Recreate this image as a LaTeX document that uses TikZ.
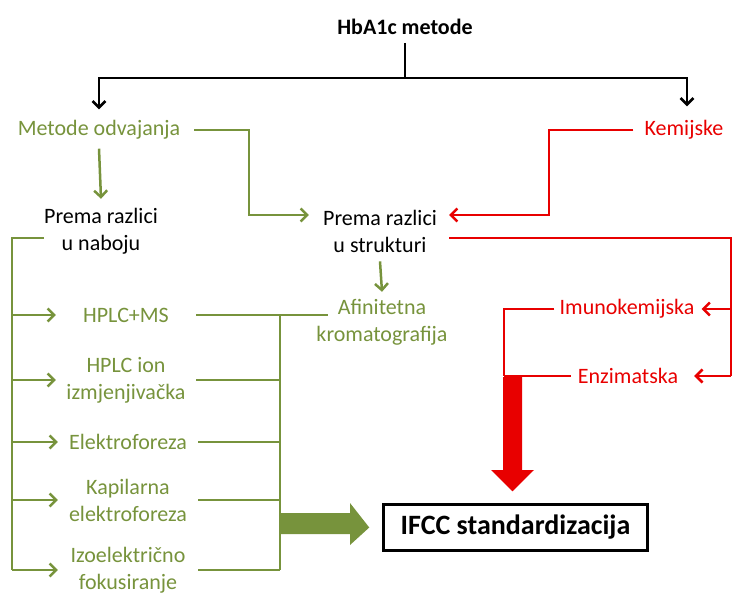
\documentclass[tikz,border=0pt]{standalone}
\usepackage{fontspec}
\setmainfont{Carlito}
\usetikzlibrary{arrows.meta}
\definecolor{olivec}{RGB}{119,147,60}
\definecolor{redc}{RGB}{232,0,0}
\begin{document}
\begin{tikzpicture}[x=1pt,y=-1pt,
  txt/.style={inner sep=0pt, align=center, font=\fontsize{22}{27}\selectfont},
  gtxt/.style={txt, text=olivec},
  rtxt/.style={txt, text=redc},
  item/.style={gtxt, minimum width=140pt},
  gline/.style={draw=olivec, line width=2.5pt},
  rline/.style={draw=redc, line width=2.5pt},
  bline/.style={draw=black, line width=2.5pt},
  tip/.style={-{Straight Barb[length=6.5pt,width=13pt]}}
]
\useasboundingbox (0,0) rectangle (732,594);

% nodes
\node[txt, font=\fontsize{22}{27}\selectfont\bfseries] (top) at (405,27) {HbA1c metode};
\node[gtxt] (mo) at (99,130) {Metode odvajanja};
\node[rtxt] (kem) at (684,130) {Kemijske};
\node[txt] (pn) at (101,231) {Prema razlici\\u naboju};
\node[txt] (ps) at (380,231) {Prema razlici\\u strukturi};
\node[gtxt] (af) at (382,322) {Afinitetna\\kromatografija};
\node[rtxt] (imu) at (627,309) {Imunokemijska};
\node[rtxt] (enz) at (628,376) {Enzimatska};
\node[item] (h1) at (126,315) {HPLC+MS};
\node[item] (h2) at (126,380) {HPLC ion\\izmjenjivačka};
\node[item] (el) at (128,442) {Elektroforeza};
\node[item] (ka) at (128,500) {Kapilarna\\elektroforeza};
\node[item] (iz) at (128,570) {Izoelektrično\\fokusiranje};
\node[draw, line width=2.5pt, inner sep=0pt, minimum width=264pt, minimum height=46pt,
      font=\fontsize{28}{32}\selectfont\bfseries] (ifcc) at (515.5,527.5) {IFCC standardizacija};

% black tree
\coordinate (bj) at (405,78);
\draw[bline] ([yshift=-8pt]top.south) -- (bj);
\draw[bline, tip] (bj) -| ([yshift=11pt]mo.north);
\draw[bline, tip] (bj) -| ([xshift=3pt,yshift=14pt]kem.north);

% green upper
\draw[gline, tip] ([yshift=-9pt]mo.south) -- ([yshift=9pt]pn.north);
\coordinate (pst) at ([xshift=-14pt,yshift=16pt]ps.west);
\draw[gline, tip] ([xshift=14pt]mo.east) -| ([xshift=-60pt]pst) -- (pst);
\draw[gline, tip] ([yshift=-9pt]ps.south) -- ([yshift=7pt]af.north);

% green left bus
\coordinate (lb) at (12,0);
\coordinate (pnl) at ([yshift=-7pt]pn.west);
\draw[gline] (pnl) -- (lb |- pnl) -- (lb |- iz.west);
\foreach \n in {h1,h2,el,ka,iz}
  \draw[gline, tip] (lb |- \n.west) -- (\n.west);

% green right bus
\coordinate (rb) at (280,0);
\draw[gline] (h1.east) -- ([xshift=12pt]af.west |- h1.east);
\draw[gline] (rb |- h1.east) -- (rb |- iz.east);
\foreach \n in {h2,el,ka,iz}
  \draw[gline] (\n.east) -- (rb |- \n.east);

% big green arrow
\fill[olivec] (281,513) -- (350,513) -- (350,503) -- ([xshift=-13pt]ifcc.west) -- (350,545) -- (350,534) -- (281,534) -- cycle;

% red
\coordinate (kst) at ([xshift=12pt,yshift=16pt]ps.east);
\draw[rline, tip] ([xshift=-11pt]kem.west) -| ([xshift=100pt]kst) -- (kst);
\coordinate (re) at (731,238);
\draw[rline] ([xshift=12pt,yshift=-7pt]ps.east) -- (re) -- (re |- enz.east);
\draw[rline, tip] (re |- imu.east) -- ([xshift=7pt]imu.east);
\draw[rline, tip] (re |- enz.east) -- ([xshift=16pt]enz.east);
\coordinate (rv) at (504,0);
\draw[rline] ([xshift=-5pt]imu.west) -| (rv |- enz.west);
\draw[rline] ([xshift=-7pt]enz.west) -- (rv |- enz.west);

% big red arrow
\fill[redc] (503,377) -- (522,377) -- (522,470) -- (534,470) -- ([xshift=-3pt,yshift=12pt]ifcc.north) -- (491,470) -- (503,470) -- cycle;
\end{tikzpicture}
\end{document}
